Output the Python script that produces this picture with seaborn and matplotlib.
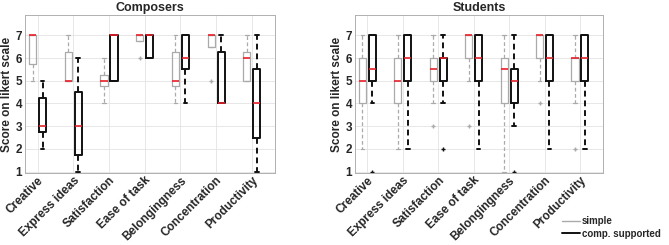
import matplotlib
matplotlib.use("Agg")
import matplotlib.pyplot as plt
import matplotlib.transforms as mtransforms
import seaborn as sns
from matplotlib.lines import Line2D

# -------------------------
# Data (box statistics)
# -------------------------

categories = ["Creative", "Express ideas", "Satisfaction", "Ease of task",
              "Belongingness", "Concentration", "Productivity"]

# Composers - simple
comp_simple_lo = [5, 5, 4, 6.75, 4, 6.5, 5]
comp_simple_q1 = [5.75, 5, 4.75, 6.75, 4.75, 6.5, 5]
comp_simple_med = [7, 5, 5, 7, 5, 7, 6]
comp_simple_q3 = [7, 6.25, 5.25, 7, 6.25, 7, 6.25]
comp_simple_hi = [7, 7, 6, 7, 7, 7, 7]
comp_simple_out = [[], [], [], [6], [], [5], []]

# Composers - comp. supported
comp_sup_lo = [2, 1, 5, 6, 4, 4, 1]
comp_sup_q1 = [2.75, 1.75, 5, 6, 5.5, 4, 2.5]
comp_sup_med = [3, 3, 7, 7, 6, 4, 4]
comp_sup_q3 = [4.25, 4.5, 7, 7, 7, 6.25, 5.5]
comp_sup_hi = [5, 6, 7, 7, 7, 7, 7]
comp_sup_out = [[], [], [], [], [], [], []]

# Students - simple
stud_simple_lo = [2, 2, 4, 5, 1, 5, 4]
stud_simple_q1 = [4, 4, 5, 6, 4, 6, 5]
stud_simple_med = [5, 5, 5.5, 7, 5.5, 7, 6]
stud_simple_q3 = [6, 6, 6, 7, 6, 7, 6]
stud_simple_hi = [7, 7, 7, 7, 7, 7, 7]
stud_simple_out = [[], [], [3], [3], [], [4], [2]]

# Students - comp. supported
stud_sup_lo = [4, 2, 4, 2, 3, 2, 2]
stud_sup_q1 = [5, 5, 5, 5, 4, 5, 5]
stud_sup_med = [5.5, 6, 6, 6, 5, 6, 6]
stud_sup_q3 = [7, 7, 6, 7, 5.5, 7, 7]
stud_sup_hi = [7, 7, 7, 7, 7, 7, 7]
stud_sup_out = [[1], [], [2], [], [1], [], []]


def make_stats(lo, q1, med, q3, hi, out):
    return [dict(whislo=a, q1=b, med=c, q3=d, whishi=e, fliers=f)
            for a, b, c, d, e, f in zip(lo, q1, med, q3, hi, out)]


panels = [
    ("Composers",
     make_stats(comp_simple_lo, comp_simple_q1, comp_simple_med,
                comp_simple_q3, comp_simple_hi, comp_simple_out),
     make_stats(comp_sup_lo, comp_sup_q1, comp_sup_med,
                comp_sup_q3, comp_sup_hi, comp_sup_out)),
    ("Students",
     make_stats(stud_simple_lo, stud_simple_q1, stud_simple_med,
                stud_simple_q3, stud_simple_hi, stud_simple_out),
     make_stats(stud_sup_lo, stud_sup_q1, stud_sup_med,
                stud_sup_q3, stud_sup_hi, stud_sup_out)),
]

# -------------------------
# Style
# -------------------------

sns.set_style("whitegrid")
plt.rcParams["font.family"] = ["Liberation Sans", "DejaVu Sans"]
plt.rcParams["font.weight"] = "bold"

GREY = "#aaaaaa"
BLACK = "#111111"
RED = "#e8202a"

fig = plt.figure(figsize=(6.69, 2.45), dpi=100)
axes = [fig.add_axes([0.0374, 0.294, 0.3737, 0.645]),
        fig.add_axes([0.5306, 0.294, 0.3707, 0.645])]

pos = list(range(1, len(categories) + 1))


def draw(ax, stats, offset, color, lw):
    ax.bxp(
        stats,
        positions=[p + offset for p in pos],
        widths=0.2,
        capwidths=0.1,
        showfliers=True,
        patch_artist=False,
        boxprops=dict(color=color, linewidth=lw),
        whiskerprops=dict(color=color, linewidth=lw, linestyle=(0, (3, 2))),
        capprops=dict(color=color, linewidth=lw),
        medianprops=dict(color=RED, linewidth=1.2),
        flierprops=dict(marker="+", markeredgecolor=color, markersize=3.5,
                        markeredgewidth=1),
        manage_ticks=False,
    )


label_shift = mtransforms.ScaledTranslation(6 / 100, -3 / 100, fig.dpi_scale_trans)

for ax, (title, simple, sup) in zip(axes, panels):
    draw(ax, simple, -0.14, GREY, 0.9)
    draw(ax, sup, 0.14, BLACK, 1.4)

    ax.set_xlim(0.65, 7.65)
    ax.set_ylim(0.94, 7.9)
    ax.set_xticks(pos)
    ax.set_xticklabels(categories, rotation=45, ha="right",
                       rotation_mode="anchor", fontsize=8.5, fontweight="bold")
    for lab in ax.get_xticklabels():
        lab.set_transform(lab.get_transform() + label_shift)
    ax.set_yticks(range(1, 8))
    ax.tick_params(axis="y", labelsize=8.5, pad=2, direction="in", length=2)
    ax.tick_params(axis="x", pad=1, direction="in", length=2)
    ax.set_title(title, fontsize=9, fontweight="bold", pad=3)
    ax.set_ylabel("Score on likert scale", fontsize=8.5, fontweight="bold",
                  labelpad=2)
    ax.grid(True, color="#e3e3e3", linewidth=0.6)
    for spine in ax.spines.values():
        spine.set_color("#b0b0b0")
        spine.set_linewidth(0.7)

handles = [Line2D([], [], color=GREY, linewidth=1),
           Line2D([], [], color=BLACK, linewidth=1.4)]
fig.legend(handles, ["simple", "comp. supported"],
           loc="lower right", bbox_to_anchor=(1.0, -0.01),
           frameon=False, handlelength=1.8,
           handletextpad=0.2, labelspacing=0.25,
           prop=dict(weight="bold", size=7))

fig.savefig("out.png", dpi=100)
